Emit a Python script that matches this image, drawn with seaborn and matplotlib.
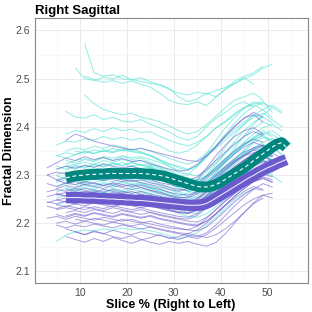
import matplotlib
matplotlib.use("Agg")
import matplotlib.pyplot as plt
import seaborn as sns
import pandas as pd
from matplotlib.ticker import MultipleLocator

# ---------------- data ----------------
# individual subject curves: (first slice %, values sampled every 2 %),
# values are fractal dimension in thousandths above 2 (e.g. 305 -> 2.305)
turq_lines = [
    (9, [522, 500, 496, 503, 499, 507, 498, 494, 490, 486, 478, 470, 466, 472, 468, 475, 482, 490, 500, 508, 522, 530]),
    (11, [572, 512, 505, 508, 500, 497, 502, 493, 488, 480, 462, 452, 458, 470, 462, 478, 495, 505, 512, 526]),
    (11, [505, 498, 492, 496, 490, 495, 488, 482, 470, 455, 448, 446, 452, 444, 462, 478, 490, 502, 488]),
    (7, [432, 420, 418, 425, 415, 420, 412, 410, 415, 405, 398, 390, 378, 372, 380, 400, 418, 430, 445, 452, 440]),
    (11, [466, 448, 436, 430, 425, 428, 420, 416, 410, 402, 392, 385, 390, 405, 422, 440, 456, 462, 470, 455]),
    (7, [385, 392, 388, 396, 390, 398, 392, 395, 388, 390, 380, 372, 365, 360, 368, 380, 398, 410, 425, 440, 448, 452, 430]),
    (5, [362, 370, 368, 375, 372, 380, 374, 378, 372, 376, 368, 360, 350, 345, 350, 362, 380, 398, 412, 428, 440, 446, 435, 420]),
    (7, [350, 356, 352, 360, 355, 362, 358, 352, 356, 350, 342, 335, 328, 322, 330, 345, 360, 378, 395, 410, 425, 418]),
    (5, [340, 335, 342, 348, 344, 350, 346, 352, 348, 345, 340, 330, 322, 318, 312, 320, 338, 355, 372, 390, 405, 420, 428, 415, 400]),
    (7, [322, 330, 334, 330, 338, 335, 340, 336, 338, 332, 326, 318, 310, 302, 298, 308, 325, 345, 362, 380, 396, 410, 402]),
    (5, [312, 318, 322, 326, 322, 330, 326, 332, 328, 330, 324, 318, 310, 300, 294, 290, 298, 312, 330, 348, 368, 385, 398, 405, 392]),
    (7, [318, 312, 320, 316, 324, 320, 326, 318, 322, 320, 314, 306, 298, 290, 288, 296, 310, 326, 345, 362, 378, 392, 384, 372]),
    (5, [300, 306, 304, 310, 314, 310, 316, 312, 318, 314, 316, 308, 300, 292, 284, 280, 288, 302, 318, 334, 352, 370, 384, 392, 378, 365]),
    (7, [298, 304, 300, 308, 305, 312, 308, 314, 310, 312, 305, 296, 288, 280, 276, 284, 298, 315, 332, 350, 366, 378, 372]),
    (5, [290, 296, 300, 298, 304, 300, 308, 304, 306, 302, 304, 298, 290, 282, 274, 270, 278, 292, 310, 326, 342, 356, 368, 376, 362]),
    (9, [300, 296, 304, 300, 306, 302, 308, 304, 300, 292, 284, 276, 272, 280, 296, 314, 332, 348, 362, 374, 380, 372]),
    (5, [285, 290, 288, 294, 292, 298, 295, 300, 296, 298, 294, 290, 282, 274, 266, 262, 270, 286, 305, 322, 338, 352, 362, 355]),
    (7, [282, 288, 284, 292, 288, 294, 290, 296, 292, 288, 282, 275, 266, 258, 262, 276, 294, 312, 328, 344, 356, 364, 350]),
    (5, [276, 282, 280, 286, 284, 290, 286, 292, 288, 290, 284, 278, 270, 262, 255, 252, 260, 274, 292, 310, 326, 340, 350, 356, 344]),
    (7, [275, 270, 278, 274, 282, 278, 284, 280, 284, 278, 272, 264, 256, 248, 246, 256, 272, 290, 306, 322, 336, 346, 338]),
    (5, [265, 272, 268, 274, 270, 278, 274, 280, 276, 278, 272, 266, 258, 250, 244, 240, 248, 262, 280, 298, 314, 328, 338, 330]),
    (7, [262, 268, 264, 270, 266, 272, 268, 274, 270, 266, 260, 252, 245, 238, 242, 255, 270, 286, 300, 314, 326, 332, 320]),
    (5, [252, 258, 256, 262, 258, 264, 260, 266, 262, 264, 258, 252, 244, 236, 230, 228, 236, 250, 266, 282, 296, 308, 318, 310]),
    (7, [250, 244, 252, 248, 255, 250, 256, 252, 256, 250, 244, 236, 228, 222, 220, 230, 246, 262, 278, 292, 304, 312, 300]),
    (5, [238, 244, 240, 246, 242, 248, 244, 250, 246, 248, 242, 236, 228, 220, 214, 212, 220, 234, 250, 266, 282, 296, 306, 298, 285]),
    (5, [162, 175, 182, 186, 184, 188, 185, 190, 186, 188, 184, 180, 174, 168, 172, 180, 195, 212, 230, 248, 262, 270]),
    (9, [350, 345, 352, 348, 355, 350, 354, 348, 340, 330, 318, 305, 300, 318, 345, 372, 398, 420, 438, 452, 445]),
    (7, [310, 318, 314, 322, 316, 324, 318, 326, 320, 316, 306, 294, 282, 274, 270, 282, 305, 330, 356, 382, 405, 425, 440, 428]),
    (9, [290, 286, 294, 290, 296, 292, 288, 282, 276, 270, 262, 256, 262, 278, 296, 316, 334, 352, 366, 378, 385, 362, 340]),
    (7, [330, 325, 332, 328, 336, 330, 338, 332, 335, 326, 316, 304, 292, 284, 290, 308, 332, 358, 384, 406, 424, 436, 445, 432]),
    (5, [298, 292, 300, 296, 303, 298, 305, 300, 306, 301, 297, 290, 282, 272, 266, 270, 285, 305, 325, 345, 362, 375, 388, 380]),
    (9, [276, 282, 278, 285, 280, 286, 282, 278, 272, 266, 258, 250, 248, 256, 272, 292, 312, 330, 345, 356, 350, 330]),
    (5, [340, 346, 342, 350, 345, 352, 348, 354, 350, 346, 340, 332, 324, 315, 310, 318, 336, 360, 385, 408, 428, 442, 450, 440]),
    (7, [258, 264, 260, 266, 262, 268, 264, 270, 266, 262, 256, 248, 240, 232, 236, 250, 268, 288, 306, 322, 334, 340, 332, 318]),
    (5, [318, 312, 320, 316, 322, 318, 325, 320, 326, 320, 318, 310, 300, 290, 282, 286, 300, 322, 346, 370, 392, 410, 420, 408]),
]

purple_lines = [
    (7, [372, 385, 378, 370, 365, 360, 356, 352, 355, 350, 345, 340, 335, 330, 328, 340, 358, 380, 400, 418, 425, 410]),
    (3, [315, 325, 335, 330, 338, 332, 336, 330, 334, 328, 330, 322, 318, 312, 308, 310, 322, 340, 360, 382, 402, 418, 430, 420]),
    (5, [312, 318, 314, 320, 316, 322, 318, 315, 318, 312, 306, 300, 294, 290, 288, 296, 312, 330, 348, 365, 380, 390, 382]),
    (3, [300, 306, 302, 296, 302, 298, 304, 300, 296, 300, 294, 290, 284, 280, 276, 274, 282, 298, 316, 334, 350, 364, 374, 368]),
    (5, [288, 294, 290, 296, 292, 288, 294, 290, 286, 290, 284, 280, 274, 270, 268, 276, 292, 310, 328, 344, 358, 368, 360, 350]),
    (3, [282, 276, 284, 280, 286, 282, 278, 284, 280, 276, 280, 274, 270, 264, 260, 258, 266, 282, 300, 318, 334, 348, 356, 362, 350]),
    (5, [272, 278, 274, 280, 276, 272, 278, 274, 270, 274, 268, 264, 258, 254, 252, 260, 276, 294, 312, 328, 342, 352, 360, 348]),
    (3, [265, 270, 266, 272, 268, 264, 270, 266, 262, 266, 260, 256, 252, 248, 244, 242, 250, 266, 284, 302, 318, 332, 344, 352, 340]),
    (5, [262, 256, 262, 258, 264, 260, 256, 262, 258, 254, 258, 252, 246, 242, 240, 248, 264, 282, 300, 316, 330, 342, 350, 345, 335]),
    (3, [255, 260, 256, 250, 256, 252, 258, 254, 250, 254, 248, 246, 242, 238, 234, 232, 240, 256, 274, 292, 308, 322, 334, 342, 338]),
    (5, [248, 252, 248, 254, 250, 246, 252, 248, 244, 248, 242, 238, 234, 230, 228, 236, 252, 270, 288, 304, 318, 330, 338, 330]),
    (3, [242, 248, 244, 240, 246, 242, 248, 244, 240, 244, 238, 236, 232, 228, 224, 222, 230, 246, 264, 282, 298, 312, 322, 330, 322]),
    (5, [238, 234, 240, 236, 242, 238, 234, 240, 236, 232, 236, 230, 226, 222, 220, 228, 244, 262, 280, 296, 310, 320, 328, 318]),
    (3, [235, 230, 236, 232, 228, 234, 230, 236, 232, 228, 232, 226, 222, 218, 214, 212, 220, 236, 254, 272, 288, 300, 310, 316, 305]),
    (5, [228, 232, 228, 234, 230, 226, 232, 228, 224, 228, 222, 218, 214, 210, 208, 216, 232, 250, 268, 284, 298, 308, 316, 308]),
    (7, [222, 226, 222, 228, 224, 220, 226, 222, 218, 222, 216, 212, 208, 204, 202, 212, 228, 246, 262, 278, 292, 302, 296]),
    (5, [218, 212, 218, 214, 220, 216, 212, 218, 214, 210, 214, 208, 204, 200, 196, 194, 204, 220, 238, 256, 272, 286, 296, 290]),
    (3, [210, 214, 208, 214, 210, 206, 212, 208, 204, 208, 202, 198, 194, 190, 188, 186, 194, 210, 228, 246, 262, 276, 286, 294, 284]),
    (5, [200, 204, 198, 204, 200, 196, 202, 198, 194, 198, 192, 188, 184, 180, 178, 186, 200, 218, 236, 252, 266, 276, 270]),
    (7, [188, 182, 176, 182, 178, 185, 180, 176, 182, 178, 174, 170, 166, 172, 168, 176, 190, 206, 222, 238, 250, 258, 252]),
    (7, [172, 166, 160, 168, 162, 170, 164, 158, 165, 170, 176, 168, 172, 178, 174, 170, 176, 188, 204, 222, 240, 252]),
    (9, [182, 176, 184, 178, 172, 168, 174, 166, 160, 156, 162, 158, 162, 156, 152, 160, 178, 200, 222, 242, 258, 262]),
    (7, [270, 266, 272, 268, 264, 270, 266, 262, 266, 260, 256, 250, 246, 244, 252, 268, 288, 308, 326, 340, 352, 345, 325]),
    (3, [244, 240, 246, 242, 248, 244, 240, 246, 242, 238, 242, 236, 232, 226, 222, 220, 226, 240, 258, 276, 292, 306, 318, 326, 332, 320]),
    (9, [292, 296, 290, 295, 290, 286, 290, 284, 280, 275, 270, 266, 272, 290, 315, 340, 362, 380, 392, 398, 385]),
    (5, [196, 190, 196, 192, 198, 194, 190, 196, 192, 188, 192, 186, 182, 178, 174, 172, 180, 196, 216, 236, 254, 270, 282, 275]),
    (3, [300, 290, 282, 286, 280, 284, 278, 282, 276, 280, 274, 268, 262, 256, 252, 254, 264, 280, 298, 316, 330, 340, 346, 352, 340]),
    (7, [215, 220, 216, 222, 218, 214, 220, 216, 212, 216, 210, 206, 202, 198, 196, 204, 220, 238, 256, 272, 286, 292, 286]),
    (5, [258, 264, 260, 266, 262, 258, 264, 260, 256, 260, 254, 250, 246, 242, 238, 244, 258, 276, 296, 314, 330, 344, 356, 364, 352]),
    (9, [208, 204, 210, 206, 202, 208, 204, 200, 204, 198, 194, 190, 186, 184, 192, 208, 226, 244, 260, 272, 268]),
]
sample_step = 2

# group mean curves
mean_slices = list(range(7, 55))
teal_mean = [2.294, 2.296, 2.298, 2.299, 2.300, 2.301, 2.301, 2.302, 2.302, 2.303,
             2.303, 2.303, 2.303, 2.303, 2.303, 2.303, 2.303, 2.302, 2.302, 2.300,
             2.299, 2.297, 2.294, 2.291, 2.288, 2.285, 2.282, 2.279, 2.276, 2.275,
             2.275, 2.277, 2.280, 2.285, 2.291, 2.297, 2.303, 2.309, 2.315, 2.322,
             2.330, 2.337, 2.344, 2.351, 2.358, 2.364, 2.367, 2.357]
purple_mean = [2.253, 2.253, 2.253, 2.253, 2.252, 2.252, 2.252, 2.251, 2.251, 2.250,
               2.250, 2.249, 2.249, 2.248, 2.248, 2.247, 2.247, 2.246, 2.245, 2.244,
               2.243, 2.242, 2.241, 2.240, 2.239, 2.238, 2.237, 2.237, 2.237, 2.238,
               2.241, 2.246, 2.252, 2.258, 2.264, 2.270, 2.276, 2.282, 2.288, 2.294,
               2.299, 2.305, 2.310, 2.315, 2.319, 2.324, 2.328, 2.332]

x_ticks = [10, 20, 30, 40, 50]
y_ticks = [2.1, 2.2, 2.3, 2.4, 2.5, 2.6]
title = "Right Sagittal"
x_label = "Slice % (Right to Left)"
y_label = "Fractal Dimension"

# ---------------- build tables ----------------
rows = []
for grp, lines in (("A", turq_lines), ("B", purple_lines)):
    for i, (start, vals) in enumerate(lines):
        for j, v in enumerate(vals):
            rows.append({"subject": f"{grp}{i}", "group": grp,
                         "slice": start + sample_step * j, "fd": 2 + v / 1000})
df = pd.DataFrame(rows)
mean_a = pd.DataFrame({"slice": mean_slices, "fd": teal_mean})
mean_b = pd.DataFrame({"slice": mean_slices, "fd": purple_mean})

# ---------------- plot ----------------
sns.set_style("white")
plt.rcParams["font.family"] = ["Liberation Sans", "DejaVu Sans"]

fig = plt.figure(figsize=(3.12, 3.12), dpi=100, facecolor="white")
ax = fig.add_axes([0.1106, 0.092, 0.875, 0.849])

sns.lineplot(data=df, x="slice", y="fd", hue="group", units="subject",
             estimator=None, sort=False, palette={"A": "#40E0D0", "B": "#6A5ACD"},
             alpha=0.58, linewidth=0.7, legend=False, ax=ax)

sns.lineplot(data=mean_a, x="slice", y="fd", color="#00857F", linewidth=7.8,
             solid_capstyle="butt", solid_joinstyle="round", ax=ax)
sns.lineplot(data=mean_a, x="slice", y="fd", color="white", linewidth=0.8,
             linestyle=(0, (3.5, 2.5)), ax=ax)
sns.lineplot(data=mean_b, x="slice", y="fd", color="#6A5ACD", linewidth=8.2,
             solid_capstyle="butt", solid_joinstyle="round", ax=ax)
sns.lineplot(data=mean_b, x="slice", y="fd", color="white", linewidth=0.8,
             alpha=0.85, ax=ax)

ax.set_xlim(0.3, 58.5)
ax.set_ylim(2.075, 2.625)
ax.set_xticks(x_ticks)
ax.set_yticks(y_ticks)
ax.set_yticklabels([f"{t:.1f}" for t in y_ticks])
ax.xaxis.set_minor_locator(MultipleLocator(5))
ax.yaxis.set_minor_locator(MultipleLocator(0.05))
ax.grid(which="major", color="#EBEBEB", linewidth=0.7)
ax.grid(which="minor", color="#F5F5F5", linewidth=0.5)
ax.set_axisbelow(True)
for sp in ax.spines.values():
    sp.set_color("#888888")
    sp.set_linewidth(0.8)
ax.tick_params(which="major", length=2, width=0.6, color="#888888",
               labelsize=7.5, labelcolor="#4D4D4D", pad=1.2)
ax.tick_params(which="minor", length=0)

ax.set_title(title, loc="left", fontsize=9.5, fontweight="bold", pad=3.2,
             color="black")
ax.set_xlabel(x_label, fontsize=9, fontweight="bold", labelpad=1.0, color="black")
ax.set_ylabel(y_label, fontsize=9, fontweight="bold", color="black")
ax.yaxis.set_label_coords(-0.072, 0.5)

fig.savefig("out.png", dpi=100, facecolor="white")
